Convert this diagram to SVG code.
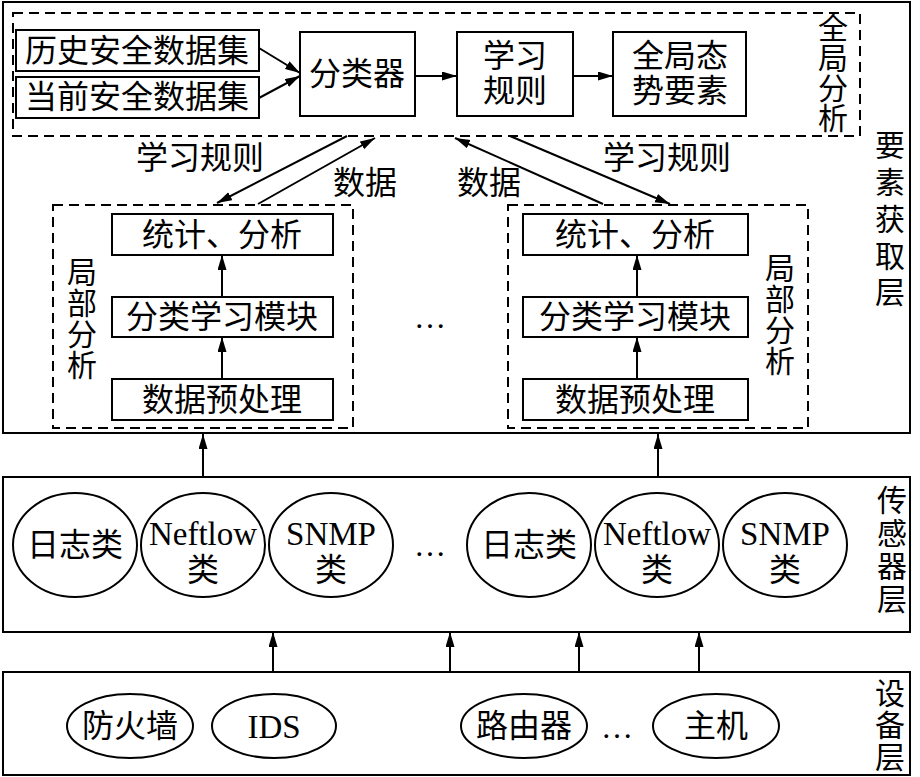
<svg xmlns="http://www.w3.org/2000/svg" width="920" height="777" viewBox="0 0 920 777">
<defs>
<marker id="ah" markerUnits="userSpaceOnUse" markerWidth="16" markerHeight="10" refX="15" refY="4.5" orient="auto">
<path d="M0,0 L15,4.5 L0,9 z" fill="#000"/>
</marker>
<style>
.box{fill:#fff;stroke:#000;stroke-width:2}
.dash{fill:none;stroke:#000;stroke-width:2;stroke-dasharray:10 6}
.ell{fill:#fff;stroke:#000;stroke-width:2}
.ln{stroke:#000;stroke-width:2;fill:none;marker-end:url(#ah)}
text{font-family:"Liberation Serif","Noto Sans CJK SC",serif;font-size:32px;fill:#000;text-anchor:middle;dominant-baseline:central}
.v{font-size:30px}
.lat{font-size:33px;dominant-baseline:alphabetic}
</style>
</defs>
<rect width="920" height="777" fill="#fff"/>

<g id="layer-acquire">
<rect class="box" x="3" y="2" width="907" height="431" fill="none"/>
<text class="v" x="890" y="145">要</text>
<text class="v" x="890" y="182">素</text>
<text class="v" x="890" y="219">获</text>
<text class="v" x="890" y="256">取</text>
<text class="v" x="890" y="292">层</text>
</g>

<g id="global-analysis">
<rect class="dash" x="13" y="13" width="847" height="123"/>
<text class="v" x="833" y="28">全</text>
<text class="v" x="833" y="58">局</text>
<text class="v" x="833" y="88">分</text>
<text class="v" x="833" y="118">析</text>
</g>
<g id="hist-data"><rect class="box" x="16" y="30" width="243" height="41"/><text x="137" y="51">历史安全数据集</text></g>
<g id="cur-data"><rect class="box" x="16" y="77" width="243" height="41"/><text x="137" y="97">当前安全数据集</text></g>
<g id="classifier"><rect class="box" x="300" y="32" width="115" height="84"/><text x="357" y="74">分类器</text></g>
<g id="learn-rules"><rect class="box" x="457" y="32" width="116" height="84"/><text x="515" y="56">学习</text><text x="515" y="91">规则</text></g>
<g id="global-elements"><rect class="box" x="613" y="32" width="133" height="84"/><text x="680" y="56">全局态</text><text x="680" y="91">势要素</text></g>

<g id="local-left">
<rect class="dash" x="53" y="205" width="300" height="223"/>
<text class="v" x="82" y="272">局</text>
<text class="v" x="82" y="303">部</text>
<text class="v" x="82" y="334">分</text>
<text class="v" x="82" y="365">析</text>
</g>
<g id="stat-left"><rect class="box" x="112" y="214" width="221" height="41"/><text x="222" y="235">统计、分析</text></g>
<g id="cls-left"><rect class="box" x="112" y="297" width="221" height="40"/><text x="222" y="317">分类学习模块</text></g>
<g id="pre-left"><rect class="box" x="112" y="379" width="221" height="41"/><text x="222" y="400">数据预处理</text></g>

<g id="local-right">
<rect class="dash" x="508" y="205" width="300" height="223"/>
<text class="v" x="780" y="268">局</text>
<text class="v" x="780" y="299">部</text>
<text class="v" x="780" y="330">分</text>
<text class="v" x="780" y="361">析</text>
</g>
<g id="stat-right"><rect class="box" x="523" y="214" width="225" height="41"/><text x="635" y="235">统计、分析</text></g>
<g id="cls-right"><rect class="box" x="523" y="297" width="225" height="40"/><text x="635" y="317">分类学习模块</text></g>
<g id="pre-right"><rect class="box" x="523" y="379" width="225" height="41"/><text x="635" y="400">数据预处理</text></g>
<text x="430" y="317">…</text>

<g id="layer-sensor">
<rect class="box" x="3" y="477" width="907" height="155"/>
<text class="v" x="892" y="500">传</text>
<text class="v" x="892" y="533">感</text>
<text class="v" x="892" y="566">器</text>
<text class="v" x="892" y="599">层</text>
</g>
<g id="s-log1"><ellipse class="ell" cx="75" cy="545" rx="62" ry="52"/><text x="75" y="545">日志类</text></g>
<g id="s-nf1"><ellipse class="ell" cx="203" cy="545" rx="62" ry="52"/><text class="lat" x="203" y="545">Neftlow</text><text x="203" y="570">类</text></g>
<g id="s-snmp1"><ellipse class="ell" cx="331" cy="545" rx="62" ry="52"/><text class="lat" x="331" y="545">SNMP</text><text x="331" y="570">类</text></g>
<text x="430" y="545">…</text>
<g id="s-log2"><ellipse class="ell" cx="529" cy="545" rx="62" ry="52"/><text x="529" y="545">日志类</text></g>
<g id="s-nf2"><ellipse class="ell" cx="657" cy="545" rx="62" ry="52"/><text class="lat" x="657" y="545">Neftlow</text><text x="657" y="570">类</text></g>
<g id="s-snmp2"><ellipse class="ell" cx="785" cy="545" rx="62" ry="52"/><text class="lat" x="785" y="545">SNMP</text><text x="785" y="570">类</text></g>

<g id="layer-device">
<rect class="box" x="3" y="672" width="907" height="103"/>
<text class="v" x="890" y="693">设</text>
<text class="v" x="890" y="725">备</text>
<text class="v" x="890" y="757">层</text>
</g>
<g id="d-fw"><ellipse class="ell" cx="130" cy="726" rx="63" ry="32"/><text x="130" y="726">防火墙</text></g>
<g id="d-ids"><ellipse class="ell" cx="274" cy="726" rx="62" ry="32"/><text class="lat" x="274" y="738">IDS</text></g>
<g id="d-router"><ellipse class="ell" cx="524" cy="726" rx="63" ry="32"/><text x="524" y="726">路由器</text></g>
<text x="617" y="727">…</text>
<g id="d-host"><ellipse class="ell" cx="716" cy="726" rx="63" ry="32"/><text x="716" y="726">主机</text></g>

<g id="connectors">
<line class="ln" x1="259" y1="48" x2="300" y2="73"/>
<line class="ln" x1="259" y1="98" x2="300" y2="76"/>
<line class="ln" x1="415" y1="76" x2="457" y2="76"/>
<line class="ln" x1="573" y1="76" x2="613" y2="76"/>
<line class="ln" x1="347" y1="136" x2="217" y2="203"/>
<line class="ln" x1="258" y1="204" x2="375" y2="138"/>
<line class="ln" x1="603" y1="204" x2="455" y2="138"/>
<line class="ln" x1="510" y1="136" x2="670" y2="204"/>
<text x="200" y="158">学习规则</text>
<text x="365" y="183">数据</text>
<text x="489" y="183">数据</text>
<text x="667" y="158">学习规则</text>
<line class="ln" x1="222" y1="297" x2="222" y2="255"/>
<line class="ln" x1="222" y1="379" x2="222" y2="337"/>
<line class="ln" x1="637" y1="297" x2="637" y2="255"/>
<line class="ln" x1="637" y1="379" x2="637" y2="337"/>
<line class="ln" x1="203" y1="477" x2="203" y2="434"/>
<line class="ln" x1="658" y1="477" x2="658" y2="434"/>
<line class="ln" x1="273" y1="672" x2="273" y2="632"/>
<line class="ln" x1="450" y1="672" x2="450" y2="632"/>
<line class="ln" x1="579" y1="672" x2="579" y2="632"/>
<line class="ln" x1="699" y1="672" x2="699" y2="632"/>
</g>
</svg>
